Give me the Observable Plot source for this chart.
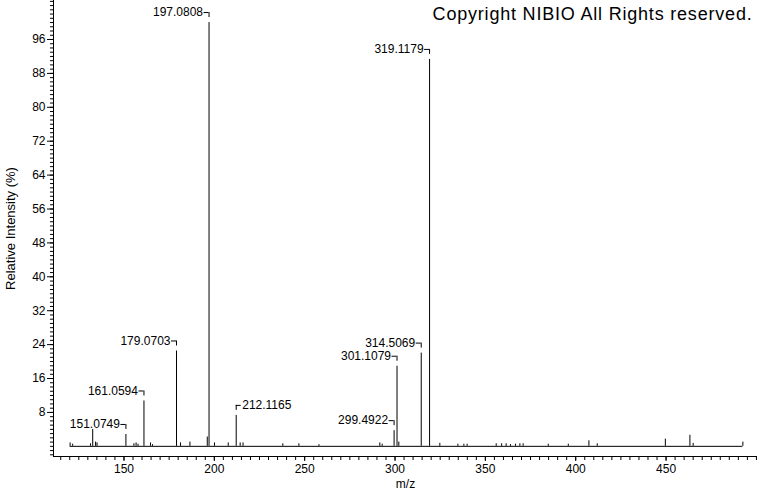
<!DOCTYPE html>
<html>
<head>
<meta charset="utf-8">
<script src="https://cdn.jsdelivr.net/npm/d3@7"></script>
<script src="https://cdn.jsdelivr.net/npm/@observablehq/plot@0.6"></script>
<style>
  html, body { margin: 0; padding: 0; background: #fff; }
  #chart { width: 760px; height: 492px; }
</style>
</head>
<body>
<div id="chart"></div>
<script>
// ---- data ----
const peakMz = [120.2, 121.6, 131.5, 132.7, 134.3, 135.1, 151.0749, 155.5, 156.7, 157.8,
  161.0594, 164.7, 165.8, 179.0703, 181.3, 186.5, 196.1, 197.0808, 200.1, 207.7,
  212.1165, 214.3, 215.9, 237.9, 246.8, 257.9, 291.6, 292.9, 299.4922, 301.1079,
  302.1, 314.5069, 319.1179, 324.8, 334.8, 338.1, 339.9, 356.0, 359.0, 361.5,
  363.9, 366.7, 369.1, 370.9, 384.8, 395.9, 407.3, 411.9, 449.6, 463.2, 465.0, 492.5];
const peakIntensity = [0.8, 0.5, 0.6, 4.0, 1.0, 0.8, 2.8, 0.6, 0.8, 0.5,
  10.7, 0.8, 0.4, 22.5, 0.8, 1.0, 2.2, 100, 0.8, 0.8,
  7.3, 0.8, 0.8, 0.6, 0.6, 0.4, 0.8, 0.5, 3.7, 18.9,
  1.0, 22.0, 91.3, 0.7, 0.5, 0.5, 0.5, 0.6, 0.6, 0.6,
  0.4, 0.5, 0.6, 0.6, 0.5, 0.5, 1.3, 0.6, 1.7, 2.6, 0.7, 1.0];
const labelLeft = [151.0749, 161.0594, 179.0703, 197.0808, 299.4922, 301.1079, 314.5069, 319.1179];
const labelRight = [212.1165];
const xTicks = [150, 200, 250, 300, 350, 400, 450];
const yTicks = [8, 16, 24, 32, 40, 48, 56, 64, 72, 80, 88, 96];
const title = "Copyright NIBIO All Rights reserved.";

// ---- derived ----
const peaks = peakMz.map((mz, i) => ({mz, int: peakIntensity[i]}));
const leftPeaks = peaks.filter(d => labelLeft.includes(d.mz));
const rightPeaks = peaks.filter(d => labelRight.includes(d.mz));

const W = 760, H = 492, mL = 53, mR = 3, mT = 0, mB = 36;
const xDom = [111, 500.6], yDom = [-2.4, 105.2];
const kx = (W - mL - mR) / (xDom[1] - xDom[0]);   // px per m/z unit
const ky = (H - mT - mB) / (yDom[1] - yDom[0]);   // px per % unit

const font = "Arial, 'Liberation Sans', sans-serif";

const chart = Plot.plot({
  width: W, height: H,
  marginLeft: mL, marginRight: mR, marginTop: mT, marginBottom: mB,
  x: {domain: xDom},
  y: {domain: yDom},
  style: {fontFamily: font, fontSize: "12px", background: "#fff", color: "#000"},
  marks: [
    // axis lines
    Plot.ruleY([yDom[0]], {stroke: "#000"}),
    Plot.ruleX([xDom[0]], {stroke: "#000"}),
    // minor ticks
    Plot.axisY({ticks: d3.range(-2, 106, 1), tickSize: 3, tickFormat: () => "", label: null}),
    Plot.axisX({ticks: d3.range(115, 501, 5), tickSize: 4, tickFormat: () => "", label: null}),
    // major ticks
    Plot.axisY({ticks: yTicks, tickSize: 6, tickPadding: 2, fontSize: 12,
      label: null}),
    Plot.axisX({ticks: xTicks, tickSize: 5, tickPadding: 3, fontSize: 12,
      label: null}),
    // axis titles
    Plot.text(["Relative Intensity (%)"], {frameAnchor: "left", dx: -43, rotate: -90,
      fontSize: 13, fill: "#000", textAnchor: "middle"}),
    Plot.text(["m/z"], {frameAnchor: "bottom", dy: 28, fontSize: 12, fill: "#000",
      textAnchor: "middle", lineAnchor: "middle"}),
    // spectrum baseline + peaks
    Plot.ruleY([0], {x1: d3.min(peakMz), x2: d3.max(peakMz), stroke: "#000"}),
    Plot.ruleX(peaks, {x: "mz", y1: 0, y2: "int", stroke: "#000"}),
    // label brackets
    Plot.ruleY(leftPeaks, {y: d => d.int + 10 / ky, x1: d => d.mz - 5 / kx, x2: "mz", stroke: "#000"}),
    Plot.ruleY(rightPeaks, {y: d => d.int + 10 / ky, x1: "mz", x2: d => d.mz + 5 / kx, stroke: "#000"}),
    Plot.ruleX([...leftPeaks, ...rightPeaks], {x: "mz", y1: d => d.int + 10 / ky, y2: d => d.int + 5 / ky, stroke: "#000"}),
    // labels
    Plot.text(leftPeaks, {x: "mz", y: "int", dy: -10, dx: -6, text: d => d.mz.toFixed(4),
      textAnchor: "end", lineAnchor: "middle", fontSize: 12, fill: "#000"}),
    Plot.text(rightPeaks, {x: "mz", y: "int", dy: -10, dx: 6, text: d => d.mz.toFixed(4),
      textAnchor: "start", lineAnchor: "middle", fontSize: 12, fill: "#000"}),
    // copyright
    Plot.text([title], {frameAnchor: "top-right", dx: -5, dy: 14, lineAnchor: "middle",
      textAnchor: "end", fontSize: 18, fill: "#000"})
  ]
});
d3.select(chart).selectAll("text").filter(function () { return this.textContent === title; })
  .style("letter-spacing", "0.8px");
document.getElementById("chart").appendChild(chart);
</script>
</body>
</html>
